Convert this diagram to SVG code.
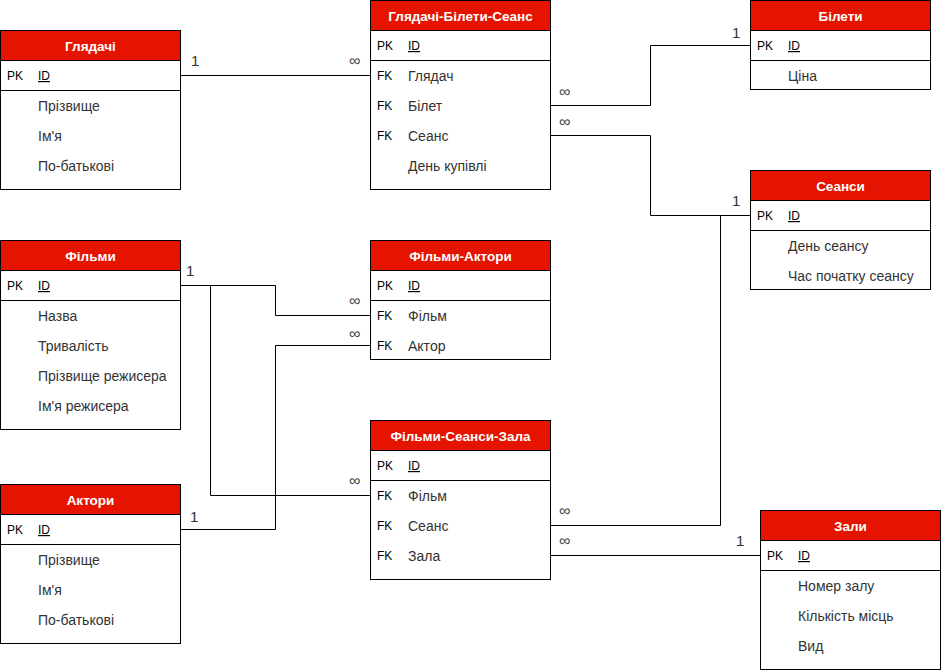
<svg xmlns="http://www.w3.org/2000/svg" width="941" height="671" viewBox="0 0 941 671">
<style>
.box{fill:#fff;stroke:#000;stroke-width:1}
.hdr{fill:#E51400;stroke:#000;stroke-width:1}
.sep{stroke:#000;stroke-width:1}
.ht{font-family:"Liberation Sans",Arial,sans-serif;font-size:13.5px;font-weight:bold;fill:#fff;text-anchor:middle}
.k{font-family:"Liberation Sans",Arial,sans-serif;font-size:12px;fill:#000}
.id{font-family:"Liberation Sans",Arial,sans-serif;font-size:12px;fill:#000;text-decoration:underline}
.f{font-family:"Liberation Sans",Arial,sans-serif;font-size:14px;fill:#333}
.one{font-family:"Liberation Sans",Arial,sans-serif;font-size:15px;fill:#333}
.inf{font-family:"Liberation Sans",Arial,sans-serif;font-size:16px;fill:#444}
.c{fill:none;stroke:#000;stroke-width:1}
</style>
<g id="connectors">
<path class="c" d="M180.5,75.5 H370.5"/>
<path class="c" d="M550.5,105.5 H650.5 V45.5 H750.5"/>
<path class="c" d="M550.5,135.5 H650.5 V215.5 H750.5"/>
<path class="c" d="M550.5,525.5 H720.5 V215.5"/>
<path class="c" d="M550.5,555.5 H760.5"/>
<path class="c" d="M180.5,285.5 H275.5 V315.5 H370.5"/>
<path class="c" d="M180.5,285.5 H210.5 V495.5 H370.5"/>
<path class="c" d="M180.5,529.5 H275.5 V345.5 H370.5"/>
<text class="one" x="191" y="66">1</text>
<text class="inf" x="349" y="66">∞</text>
<text class="inf" x="559" y="97">∞</text>
<text class="inf" x="559" y="127">∞</text>
<text class="one" x="732" y="38">1</text>
<text class="one" x="732" y="206">1</text>
<text class="one" x="186" y="276">1</text>
<text class="inf" x="349" y="306">∞</text>
<text class="inf" x="349" y="339">∞</text>
<text class="inf" x="349" y="486">∞</text>
<text class="one" x="190" y="522">1</text>
<text class="inf" x="559" y="516">∞</text>
<text class="inf" x="559" y="546">∞</text>
<text class="one" x="736" y="546">1</text>
</g>
<g id="gliadachi">
<rect class="box" x="0.5" y="30.5" width="180" height="159"/>
<rect class="hdr" x="0.5" y="30.5" width="180" height="30"/>
<text class="ht" x="90.5" y="51">Глядачі</text>
<line class="sep" x1="0.5" y1="90.5" x2="180.5" y2="90.5"/>
<text class="k" x="7" y="80">PK</text><text class="id" x="38" y="80">ID</text>
<text class="f" x="38" y="111">Прізвище</text>
<text class="f" x="38" y="141">Ім'я</text>
<text class="f" x="38" y="171">По-батькові</text>
</g>
<g id="gbs">
<rect class="box" x="370.5" y="0.5" width="180" height="189"/>
<rect class="hdr" x="370.5" y="0.5" width="180" height="30"/>
<text class="ht" x="460.5" y="21">Глядачі-Білети-Сеанс</text>
<line class="sep" x1="370.5" y1="60.5" x2="550.5" y2="60.5"/>
<text class="k" x="377" y="50">PK</text><text class="id" x="408" y="50">ID</text>
<text class="k" x="377" y="80">FK</text><text class="f" x="408" y="81">Глядач</text>
<text class="k" x="377" y="110">FK</text><text class="f" x="408" y="111">Білет</text>
<text class="k" x="377" y="140">FK</text><text class="f" x="408" y="141">Сеанс</text>
<text class="f" x="408" y="171">День купівлі</text>
</g>
<g id="bileti">
<rect class="box" x="750.5" y="0.5" width="180" height="89"/>
<rect class="hdr" x="750.5" y="0.5" width="180" height="30"/>
<text class="ht" x="840.5" y="21">Білети</text>
<line class="sep" x1="750.5" y1="60.5" x2="930.5" y2="60.5"/>
<text class="k" x="757" y="50">PK</text><text class="id" x="788" y="50">ID</text>
<text class="f" x="788" y="81">Ціна</text>
</g>
<g id="seansi">
<rect class="box" x="750.5" y="170.5" width="180" height="119"/>
<rect class="hdr" x="750.5" y="170.5" width="180" height="30"/>
<text class="ht" x="840.5" y="191">Сеанси</text>
<line class="sep" x1="750.5" y1="230.5" x2="930.5" y2="230.5"/>
<text class="k" x="757" y="220">PK</text><text class="id" x="788" y="220">ID</text>
<text class="f" x="788" y="251">День сеансу</text>
<text class="f" x="788" y="281">Час початку сеансу</text>
</g>
<g id="filmy">
<rect class="box" x="0.5" y="240.5" width="180" height="189"/>
<rect class="hdr" x="0.5" y="240.5" width="180" height="30"/>
<text class="ht" x="90.5" y="261">Фільми</text>
<line class="sep" x1="0.5" y1="300.5" x2="180.5" y2="300.5"/>
<text class="k" x="7" y="290">PK</text><text class="id" x="38" y="290">ID</text>
<text class="f" x="38" y="321">Назва</text>
<text class="f" x="38" y="351">Тривалість</text>
<text class="f" x="38" y="381">Прізвище режисера</text>
<text class="f" x="38" y="411">Ім'я режисера</text>
</g>
<g id="filmy-aktory">
<rect class="box" x="370.5" y="240.5" width="180" height="119"/>
<rect class="hdr" x="370.5" y="240.5" width="180" height="30"/>
<text class="ht" x="460.5" y="261">Фільми-Актори</text>
<line class="sep" x1="370.5" y1="300.5" x2="550.5" y2="300.5"/>
<text class="k" x="377" y="290">PK</text><text class="id" x="408" y="290">ID</text>
<text class="k" x="377" y="320">FK</text><text class="f" x="408" y="321">Фільм</text>
<text class="k" x="377" y="350">FK</text><text class="f" x="408" y="351">Актор</text>
</g>
<g id="fsz">
<rect class="box" x="370.5" y="420.5" width="180" height="159"/>
<rect class="hdr" x="370.5" y="420.5" width="180" height="30"/>
<text class="ht" x="460.5" y="441">Фільми-Сеанси-Зала</text>
<line class="sep" x1="370.5" y1="480.5" x2="550.5" y2="480.5"/>
<text class="k" x="377" y="470">PK</text><text class="id" x="408" y="470">ID</text>
<text class="k" x="377" y="500">FK</text><text class="f" x="408" y="501">Фільм</text>
<text class="k" x="377" y="530">FK</text><text class="f" x="408" y="531">Сеанс</text>
<text class="k" x="377" y="560">FK</text><text class="f" x="408" y="561">Зала</text>
</g>
<g id="aktory">
<rect class="box" x="0.5" y="484.5" width="180" height="159"/>
<rect class="hdr" x="0.5" y="484.5" width="180" height="30"/>
<text class="ht" x="90.5" y="505">Актори</text>
<line class="sep" x1="0.5" y1="544.5" x2="180.5" y2="544.5"/>
<text class="k" x="7" y="534">PK</text><text class="id" x="38" y="534">ID</text>
<text class="f" x="38" y="565">Прізвище</text>
<text class="f" x="38" y="595">Ім'я</text>
<text class="f" x="38" y="625">По-батькові</text>
</g>
<g id="zaly">
<rect class="box" x="760.5" y="510.5" width="180" height="159"/>
<rect class="hdr" x="760.5" y="510.5" width="180" height="30"/>
<text class="ht" x="850.5" y="531">Зали</text>
<line class="sep" x1="760.5" y1="570.5" x2="940.5" y2="570.5"/>
<text class="k" x="767" y="560">PK</text><text class="id" x="798" y="560">ID</text>
<text class="f" x="798" y="591">Номер залу</text>
<text class="f" x="798" y="621">Кількість місць</text>
<text class="f" x="798" y="651">Вид</text>
</g>
</svg>
